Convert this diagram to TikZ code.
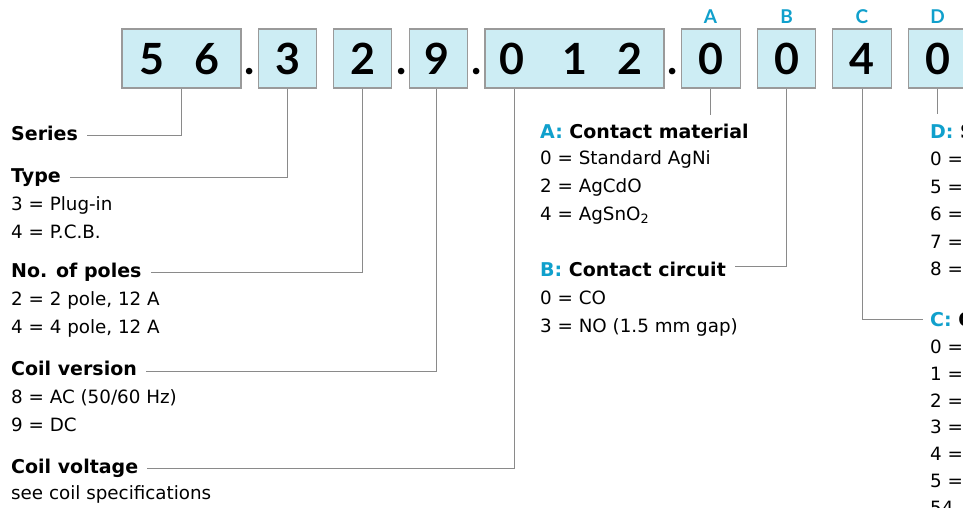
\documentclass[tikz,border=0pt]{standalone}
\usepackage{fontspec}
\setmainfont{DejaVu Sans}
\newfontfamily\digitfont{Lato}
\definecolor{boxfill}{HTML}{CDEDF4}
\definecolor{boxdraw}{HTML}{9A9A9A}
\definecolor{linecol}{HTML}{8A8A8A}
\definecolor{keycyan}{HTML}{10A0CC}
\begin{document}
\begin{tikzpicture}[x=1pt,y=-1pt,
  box/.style={draw=boxdraw, fill=boxfill, line width=1.3pt, minimum height=59pt, minimum width=58.5pt, inner sep=0},
  digit/.style={font=\digitfont\fontsize{43}{43}\selectfont\bfseries, anchor=base, inner sep=0},
  conn/.style={draw=linecol, line width=1pt},
  head/.style={font=\fontsize{19}{19}\selectfont\bfseries, anchor=base west, inner sep=0},
  item/.style={font=\fontsize{18.3}{18.3}\selectfont, anchor=base west, inner sep=0},
  letter/.style={font=\digitfont\fontsize{19}{19}\selectfont\bfseries, text=keycyan, anchor=base, inner sep=0}]
\useasboundingbox (0,0) rectangle (963,507);
\clip (0,0) rectangle (963,507);
\fill[white] (0,0) rectangle (963,507);

% boxes
\node[box, minimum width=119pt] (b56) at (181.5,58.5) {};
\node[box] (b3) at (287.5,58.5) {};
\node[box] (b2) at (362.5,58.5) {};
\node[box] (b9) at (438.5,58.5) {};
\node[box, minimum width=179pt] (b012) at (574.5,58.5) {};
\node[box] (bA) at (711,58.5) {};
\node[box] (bB) at (786.5,58.5) {};
\node[box] (bC) at (862,58.5) {};
\node[box] (bD) at (938,58.5) {};

% digits
\node[digit] (d5) at (152,74.5) {5};
\node[digit] (d6) at (207,74.5) {6};
\node[digit] (d3) at (287.5,74.5) {3};
\node[digit] (d2) at (362.5,74.5) {2};
\node[digit] (d9) at (437,74.5) {9};
\node[digit] (d0a) at (512,74.5) {0};
\node[digit] (d1) at (575,74.5) {1};
\node[digit] (d2b) at (630,74.5) {2};
\node[digit] (dA) at (710.5,74.5) {0};
\node[digit] (dB) at (786.5,74.5) {0};
\node[digit] (dC) at (862,74.5) {4};
\node[digit] (dD) at (937.5,74.5) {0};

% dots
\node[digit] (p1) at (250,74.5) {.};
\node[digit] (p2) at (402,74.5) {.};
\node[digit] (p3) at (477,74.5) {.};
\node[digit] (p4) at (673,74.5) {.};

% letters
\node[letter] (lA) at (710.5,23) {A};
\node[letter] (lB) at (786.5,23) {B};
\node[letter] (lC) at (862,23) {C};
\node[letter] (lD) at (937.5,23) {D};

% left column
\node[head] (hSeries) at (11,140) {Series};
\node[head] (hType) at (11,182) {Type};
\node[item] (t3) at (11,210) {3 = Plug-in};
\node[item] (t4) at (11,238) {4 = P.C.B.};
\node[head] (hPoles) at (11,277) {No. of poles};
\node[item] (p2i) at (11,305) {2 = 2 pole, 12 A};
\node[item] (p4i) at (11,333) {4 = 4 pole, 12 A};
\node[head] (hVersion) at (11,375) {Coil version};
\node[item] (v8) at (11,403) {8 = AC (50/60 Hz)};
\node[item] (v9) at (11,431) {9 = DC};
\node[head] (hVoltage) at (11,473) {Coil voltage};
\node[item] (vs) at (11,499) {see coil specifications};

% A / B column
\node[head] (hA) at (540,138) {\textcolor{keycyan}{A:} Contact material};
\node[item] (a0) at (540,164) {0 = Standard AgNi};
\node[item] (a2) at (540,192) {2 = AgCdO};
\node[item] (a4) at (540,220) {4 = AgSnO\textsubscript{2}};
\node[head] (hB) at (540,276) {\textcolor{keycyan}{B:} Contact circuit};
\node[item] (b0i) at (540,304) {0 = CO};
\node[item] (b3i) at (540,332) {3 = NO (1.5 mm gap)};

% D column
\node[head] (hD) at (930,138) {\textcolor{keycyan}{D:} S};
\node[item] (dd0) at (930,165) {0 =};
\node[item] (dd5) at (930,193) {5 =};
\node[item] (dd6) at (930,220) {6 =};
\node[item] (dd7) at (930,248) {7 =};
\node[item] (dd8) at (930,275) {8 =};

% C column
\node[head] (hC) at (930,326) {\textcolor{keycyan}{C:} O};
\node[item] (c0) at (930,353) {0 =};
\node[item] (c1) at (930,380) {1 =};
\node[item] (c2) at (930,407) {2 =};
\node[item] (c3) at (930,433) {3 =};
\node[item] (c4) at (930,460) {4 =};
\node[item] (c5) at (930,487) {5 =};
\node[item] (c54) at (930,514) {54};

% connectors
\coordinate (eA) at (710.5,115);
\coordinate (eD) at (937.5,114);
\draw[conn] ([xshift=-0.5pt]b56.south) |- ([xshift=9pt,yshift=5pt]hSeries.base east);
\draw[conn] (b3.south) |- ([xshift=9pt,yshift=5pt]hType.base east);
\draw[conn] (b2.south) |- ([xshift=9pt,yshift=5pt]hPoles.base east);
\draw[conn] ([xshift=-2.5pt]b9.south) |- ([xshift=9pt,yshift=4pt]hVersion.base east);
\draw[conn] ([xshift=-60.5pt]b012.south) |- ([xshift=9pt,yshift=5pt]hVoltage.base east);
\draw[conn] ([xshift=-0.5pt]bA.south) -- (eA);
\draw[conn] (bB.south) |- ([xshift=9pt,yshift=10pt]hB.base east);
\draw[conn] (bC.south) |- ([xshift=-7pt,yshift=7pt]hC.base west);
\draw[conn] ([xshift=-0.5pt]bD.south) -- (eD);
\end{tikzpicture}
\end{document}
